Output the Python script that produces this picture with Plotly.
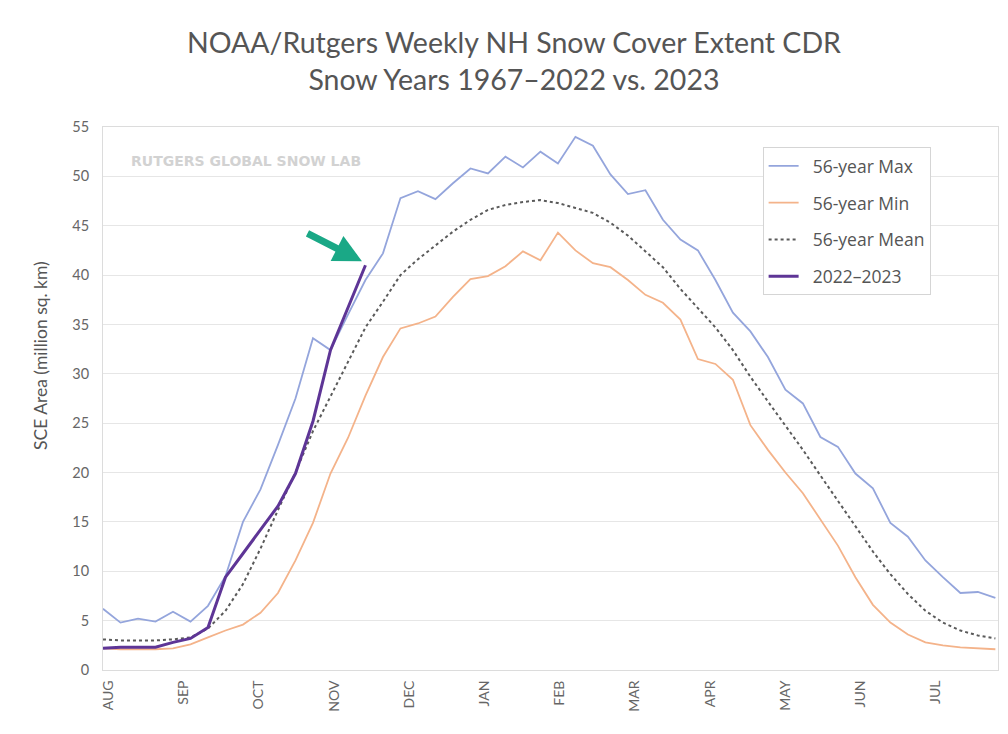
import plotly.graph_objects as go

weeks = list(range(52))

max_56 = [6.2, 4.8, 5.2, 4.9, 5.9, 4.9, 6.5, 9.5, 15.0, 18.3, 22.8, 27.5, 33.6, 32.4, 36.0, 39.5,
          42.2, 47.8, 48.5, 47.7, 49.3, 50.8, 50.3, 52.0, 50.9, 52.5, 51.3, 54.0, 53.1, 50.2, 48.2, 48.6,
          45.6, 43.6, 42.5, 39.5, 36.2, 34.3, 31.7, 28.4, 27.0, 23.6, 22.6, 19.9, 18.4, 14.9, 13.5, 11.1,
          9.4, 7.8, 7.9, 7.3]
min_56 = [2.2, 2.1, 2.1, 2.1, 2.2, 2.6, 3.3, 4.0, 4.6, 5.8, 7.8, 11.1, 14.9, 19.9, 23.5, 27.8,
          31.7, 34.6, 35.1, 35.8, 37.8, 39.6, 39.9, 40.9, 42.4, 41.5, 44.3, 42.5, 41.2, 40.8, 39.5, 38.0,
          37.2, 35.5, 31.5, 31.0, 29.4, 24.8, 22.3, 20.0, 17.9, 15.2, 12.6, 9.4, 6.6, 4.8, 3.6, 2.8,
          2.5, 2.3, 2.2, 2.1]
mean_56 = [3.1, 3.0, 3.0, 3.0, 3.1, 3.3, 4.2, 6.0, 8.7, 12.3, 16.2, 20.0, 24.2, 27.7, 31.3, 34.7,
           37.3, 40.0, 41.6, 43.0, 44.4, 45.6, 46.6, 47.1, 47.4, 47.6, 47.3, 46.8, 46.3, 45.3, 44.0, 42.4,
           40.8, 38.6, 36.6, 34.7, 32.4, 29.7, 27.2, 24.8, 22.3, 19.7, 17.1, 14.6, 12.0, 9.7, 7.7, 6.0,
           4.8, 4.0, 3.5, 3.2]
sy_2023 = [2.2, 2.3, 2.3, 2.3, 2.8, 3.2, 4.3, 9.4, 11.8, 14.2, 16.6, 19.9, 25.2, 32.4, 36.8, 41.0]

months = ["AUG", "SEP", "OCT", "NOV", "DEC", "JAN", "FEB", "MAR", "APR", "MAY", "JUN", "JUL"]
month_pos = [0.3 + i * 4.3 for i in range(len(months))]
y_ticks = list(range(0, 56, 5))
pad = "\u00a0" * 2

fig = go.Figure()
fig.add_trace(go.Scatter(x=weeks, y=max_56, mode="lines", name=pad + "56-year Max",
                         line=dict(color="#94a5dc", width=1.8), legendgroup="a"))
fig.add_trace(go.Scatter(x=weeks, y=min_56, mode="lines", name=pad + "56-year Min",
                         line=dict(color="#f4b38a", width=1.8), legendgroup="b"))
fig.add_trace(go.Scatter(x=weeks, y=mean_56, mode="lines", name=pad + "56-year Mean",
                         line=dict(color="#5a5a5a", width=2, dash="3px,3px"), legendgroup="c"))
fig.add_trace(go.Scatter(x=weeks[:len(sy_2023)], y=sy_2023, mode="lines", name=pad + "2022–2023",
                         line=dict(color="#5e3596", width=3), legendgroup="d"))

fig.add_annotation(x=14.8, y=41.4, ax=11.6, ay=44.3, xref="x", yref="y", axref="x", ayref="y",
                   showarrow=True, arrowhead=2, arrowsize=0.8, arrowwidth=7, arrowcolor="#1aa886",
                   text="")
fig.add_annotation(x=1.5, y=51.6, xref="x", yref="y", text="<b>RUTGERS GLOBAL SNOW LAB</b>",
                   showarrow=False, xanchor="left",
                   font=dict(size=14, color="#d2d2d2", family="DejaVu Sans"))
fig.add_annotation(x=-0.0704, y=0.58, xref="paper", yref="paper", text="SCE Area (million sq. km)",
                   textangle=-90, showarrow=False, xanchor="center", yanchor="middle",
                   font=dict(size=17.5, color="#555", family="Lato"))

fig.update_layout(
    width=992, height=718,
    paper_bgcolor="white", plot_bgcolor="white",
    margin=dict(l=95, r=2, t=119, b=56),
    title=dict(text="NOAA/Rutgers Weekly NH Snow Cover Extent CDR<br>Snow Years 1967–2022 vs. 2023",
               x=0.51, xanchor="center", y=0.937, yanchor="top",
               font=dict(size=28.5, color="#555", family="Lato")),
    font=dict(family="Lato", color="#666"),
    legend=dict(x=0.737, y=0.963, xanchor="left", yanchor="top", bgcolor="white",
                bordercolor="#d5d5d5", borderwidth=1, font=dict(size=17.5, color="#555", family="Open Sans"),
                tracegroupgap=11),
    showlegend=True,
)
fig.update_xaxes(range=[0, 51.15], tickmode="array", tickvals=month_pos, ticktext=months,
                 tickangle=-90, tickfont=dict(size=14, color="#666"), showgrid=False,
                 showline=True, linecolor="#dcdcdc", mirror=True, zeroline=False, ticks="",
                 ticklabelstandoff=4)
fig.update_yaxes(range=[0, 55], tickmode="array", tickvals=y_ticks, tickfont=dict(size=14.5, color="#666"),
                 showgrid=True, gridcolor="#e6e6e6", showline=True, linecolor="#dcdcdc", mirror=True,
                 zeroline=False, ticks="", ticklabelstandoff=10)

fig.write_html("out.html")
